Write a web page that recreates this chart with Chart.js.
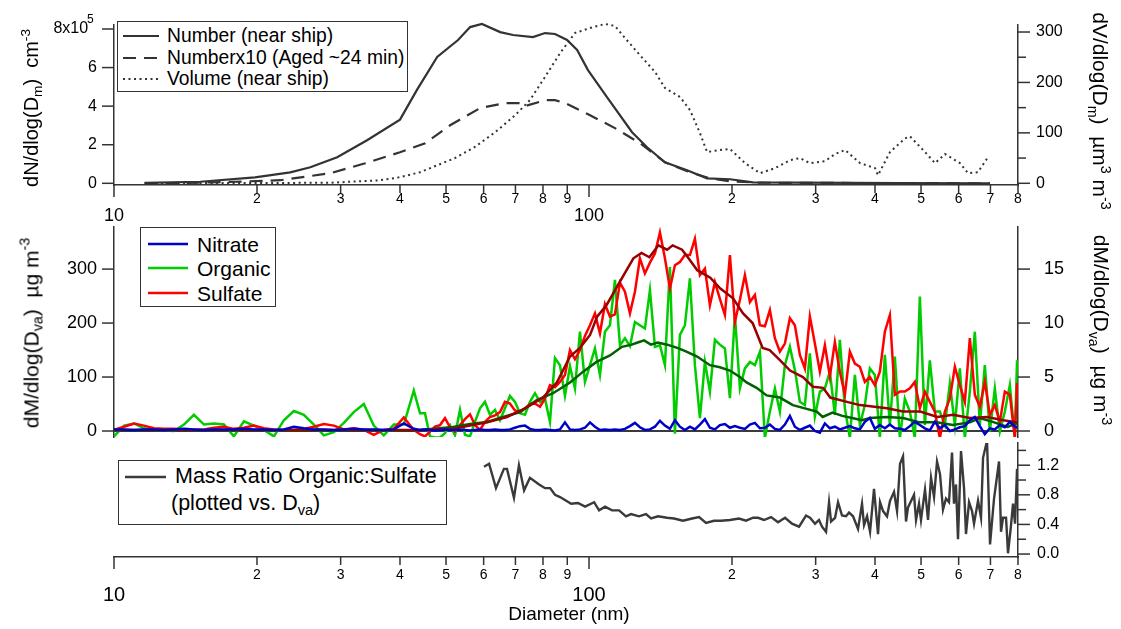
<!DOCTYPE html>
<html>
<head>
<meta charset="utf-8">
<script src="https://cdn.jsdelivr.net/npm/chart.js@4.4.1/dist/chart.umd.min.js"></script>
<style>
  body { margin: 0; background: #fff; font-family: "Liberation Sans", Arial, sans-serif; }
  #wrap { position: relative; width: 1121px; height: 629px; overflow: hidden; }
  canvas { position: absolute; left: 0; }
  .title { position: absolute; white-space: nowrap; color: #000; font-size: 20px; line-height: 1; }
  .rotL { transform: translate(-50%, -50%) rotate(-90deg); }
  .rotR { transform: translate(-50%, -50%) rotate(90deg); }
  .ctr { transform: translate(-50%, -50%); }
  sub { font-size: 0.68em; vertical-align: -0.3em; line-height: 0; }
  sup { font-size: 0.68em; vertical-align: 0.6em; line-height: 0; }
  .legend { position: absolute; border: 1.5px solid #333; background: #fff; box-sizing: border-box; }
  .row { position: absolute; left: 0; white-space: nowrap; }
  .row svg { position: absolute; }
  .row span { position: absolute; line-height: 1; transform: translateY(-50%); }
</style>
</head>
<body>
<div id="wrap">
  <canvas id="c1" width="1121" height="230" style="top:0px"></canvas>
  <canvas id="c2" width="1121" height="230" style="top:215px"></canvas>
  <canvas id="c3" width="1121" height="189" style="top:440px"></canvas>

  <div class="title" style="left:87px; top:13px; font-size:12px;">5</div>
  <div class="title rotL" style="left:31px; top:108px;">dN/dlog(D<sub>m</sub>)&nbsp; cm<sup>-3</sup></div>
  <div class="title rotR" style="left:1100px; top:111px; font-size:21px;">dV/dlog(D<sub>m</sub>)&nbsp; µm<sup>3</sup> m<sup>-3</sup></div>
  <div class="title rotL" style="left:31px; top:333px; font-size:21px;">dM/dlog(D<sub>va</sub>)&nbsp; µg m<sup>-3</sup></div>
  <div class="title rotR" style="left:1101px; top:330px; font-size:21px;">dM/dlog(D<sub>va</sub>)&nbsp; µg m<sup>-3</sup></div>
  <div class="title ctr" style="left:569px; top:613px; font-size:19px;">Diameter (nm)</div>

  <div class="legend" style="left:117px; top:21px; width:291px; height:71px; font-size:19.3px;">
    <div class="row" style="top:14px;"><svg width="36" height="6" style="left:5px; top:-3px;"><line x1="0" y1="3" x2="36" y2="3" stroke="#333" stroke-width="2.2"/></svg><span style="left:49px;">Number (near ship)</span></div>
    <div class="row" style="top:36px;"><svg width="36" height="6" style="left:5px; top:-3px;"><line x1="0" y1="3" x2="36" y2="3" stroke="#333" stroke-width="2.2" stroke-dasharray="13,8"/></svg><span style="left:49px;">Numberx10 (Aged ~24 min)</span></div>
    <div class="row" style="top:57px;"><svg width="36" height="6" style="left:5px; top:-3px;"><line x1="0" y1="3" x2="36" y2="3" stroke="#333" stroke-width="2" stroke-dasharray="2,3.5"/></svg><span style="left:49px;">Volume (near ship)</span></div>
  </div>

  <div class="legend" style="left:140px; top:227px; width:136px; height:80px; font-size:21px;">
    <div class="row" style="top:16px;"><svg width="40" height="6" style="left:7px; top:-3px;"><line x1="0" y1="3" x2="40" y2="3" stroke="#0000cc" stroke-width="2.6"/></svg><span style="left:56px;">Nitrate</span></div>
    <div class="row" style="top:40px;"><svg width="40" height="6" style="left:7px; top:-3px;"><line x1="0" y1="3" x2="40" y2="3" stroke="#00cc00" stroke-width="2.6"/></svg><span style="left:56px;">Organic</span></div>
    <div class="row" style="top:65px;"><svg width="40" height="6" style="left:7px; top:-3px;"><line x1="0" y1="3" x2="40" y2="3" stroke="#ff0000" stroke-width="2.6"/></svg><span style="left:56px;">Sulfate</span></div>
  </div>

  <div class="legend" style="left:118px; top:460px; width:329px; height:65px; font-size:21.5px;">
    <div class="row" style="top:16px;"><svg width="41" height="6" style="left:6px; top:-3px;"><line x1="0" y1="3" x2="41" y2="3" stroke="#3a3a3a" stroke-width="2.4"/></svg><span style="left:56px;">Mass Ratio Organic:Sulfate</span></div>
    <div class="row" style="top:43px;"><span style="left:52px;">(plotted vs. D<sub>va</sub>)</span></div>
  </div>
</div>

<script>
// ---- top panel: size distributions vs mobility diameter ----
const numD = [11.6, 15.2, 19.8, 23.5, 25.9, 29.5, 34.1, 40.0, 43.4, 47.9, 53.0, 56.2, 59.5, 65.0, 69.2, 76.2, 80.8, 84.8, 89.9, 94.4, 99.5, 109.1, 123.2, 132.5, 144.5, 160.8, 177.2, 198.1, 221.5, 278.0, 451.6, 698.6];
const numNear = [2000, 8000, 31000, 57000, 83000, 135000, 223000, 330000, 483000, 655000, 743000, 810000, 826000, 784000, 769000, 758000, 779000, 774000, 743000, 691000, 587000, 447000, 265000, 187000, 109000, 68000, 26000, 21000, 5000, 3000, 1000, 0];

const agedD = [11.6, 15.2, 18.0, 22.4, 28.5, 33.8, 40.0, 45.2, 51.0, 59.0, 66.5, 71.6, 73.3, 80.8, 84.8, 89.0, 100.5, 113.4, 128.0, 144.5, 163.2, 179.8, 198.1, 229.1, 451.6, 698.6];
const numAgedX10 = [0, 3000, 8000, 16000, 52000, 104000, 161000, 208000, 301000, 390000, 416000, 416000, 400000, 431000, 431000, 416000, 353000, 286000, 208000, 109000, 57000, 26000, 10000, 3000, 1000, 0];

const volD = [11.6, 28.5, 36.3, 40.0, 44.1, 46.3, 52.2, 57.5, 63.4, 69.9, 75.1, 80.8, 86.9, 93.4, 100.5, 108.1, 113.4, 119.1, 128.0, 137.7, 144.5, 155.5, 163.2, 171.3, 177.2, 188.7, 198.1, 213.0, 229.1, 246.4, 265.0, 278.0, 291.9, 313.9, 329.6, 345.9, 372.0, 400.0, 405.9, 430.2, 462.6, 474.0, 509.7, 535.1, 561.6, 603.9, 627.8, 659.1, 691.8];
const volNear = [0, 1, 6, 12, 22, 30, 50, 72, 101, 135, 165, 211, 258, 298, 308, 316, 312, 288, 254, 221, 189, 171, 145, 99, 62, 66, 68, 40, 20, 30, 46, 50, 40, 44, 58, 66, 40, 30, 16, 62, 89, 93, 62, 40, 58, 40, 20, 22, 52];

// ---- middle panel: AMS mass distributions vs vacuum aerodynamic diameter ----
const dva = [10.0, 10.5, 11.02, 11.56, 12.14, 12.74, 13.37, 14.04, 14.73, 15.47, 16.23, 17.04, 17.88, 18.77, 19.70, 20.68, 21.71, 22.78, 23.91, 25.10, 26.35, 27.65, 29.03, 30.47, 31.98, 33.57, 35.23, 36.98, 38.82, 40.75, 42.77,
  44.07, 45.15, 46.26, 47.39, 48.56, 49.75, 50.97, 52.22, 53.50, 54.81, 56.16, 57.53, 58.95, 60.39, 61.87, 63.39, 64.95, 66.54, 68.17, 69.84, 71.56, 73.31, 75.11, 76.95, 78.84, 80.77, 82.75, 84.78, 86.86, 88.99, 91.18,
  93.41, 95.70, 98.05, 100.46, 102.92, 105.44, 108.03, 110.68, 113.39, 116.17, 119.02, 121.94, 124.93, 127.99, 131.13, 134.35, 137.64, 141.02, 144.48, 148.02, 151.65, 155.37, 159.18, 163.08, 167.08, 171.18, 175.38, 179.68, 184.09, 188.60,
  193.23, 197.97, 202.82, 207.80, 212.89, 218.11, 223.46, 228.94, 234.56, 240.31, 246.20, 252.24, 258.43, 264.77, 271.26, 277.91, 284.73, 291.71, 298.87, 306.20, 313.71, 321.40, 329.28, 337.36, 345.63, 354.11, 362.80, 371.70, 380.81, 390.15,
  399.72, 409.53, 419.57, 429.86, 440.41, 451.21, 462.28, 473.62, 485.23, 497.13, 509.33, 521.82, 534.62, 547.73, 561.17, 574.93, 589.03, 603.48, 618.29, 633.45, 648.99, 664.91, 681.22, 697.93, 715.05, 732.59, 750.56, 768.97, 787.84, 796.3];

const organic = [-10, 10, 14, 5, 2, 1, 0, 12, 30, 12, 14, 12, -10, 18, 10, 2, -10, 20, 37, 30, 12, -8, -2, 15, 35, 50, 10, -8, 12, 12, 75,
  33, 33, -10, -12, -12, -4, 11, -8, 39, -7, -10, 17, 42, 54, 30, 39, 20, 42, 65, 54, 33, 30, 54, 70, 54, 60, 17, 135, 122, 65, 120,
  79, 184, 91, 122, 153, 104, 184, 196, 280, 159, 172, 157, 202, 196, 190, 261, 156, 159, 122, 304, -5, 178, 196, 283, 122, 24, 128, 73, 169, 160,
  153, 61, 215, 79, 116, 128, 122, 147, -13, 36, 79, 36, 122, 156, 113, 54, 48, 144, 27, 73, 79, 110, 30, 169, 42, -13, 104, 11, 48, 116,
  104, -13, 141, 11, 138, -13, 60, 36, -13, 249, 11, 131, 36, 36, 11, 88, 11, 116, -13, 73, 184, 11, 122, -1, 79, -1, 36, 85, -13, 131];

const sulfate = [2, 8, 14, 10, 5, 4, 4, 3, 2, 3, 6, 8, 4, 6, 10, 5, 3, 2, 2, 4, 8, 13, 10, 3, 5, 2, -7, 2, 4, 25, 2,
  -6, -10, -1, 8, 11, 24, 7, -1, 11, 22, 31, 11, 2, 17, 26, 29, 35, 54, 51, 38, 35, 42, 50, 51, 45, 60, 85, 81, 91, 104, 150,
  133, 150, 176, 196, 218, 181, 235, 212, 216, 275, 258, 218, 258, 320, 292, 312, 329, 368, 320, 264, 307, 313, 326, 326, 356, 289, 301, 233, 276, 245,
  215, 326, 202, 243, 289, 239, 252, 196, 194, 224, 172, 147, 162, 209, 196, 141, 116, 212, 162, 110, 159, 101, 165, 110, 67, 147, 125, 119, 91, 100,
  85, 110, 184, 215, 67, 73, 73, 79, 91, 42, 73, 54, 36, -13, 36, 60, 119, 85, 54, 172, 67, 45, 91, 30, 48, 17, 73, 67, -13, 89];

const nitrate = [3, 3, 2, 3, 3, 2, 3, 4, 3, 2, 3, 3, 3, 4, 3, 3, 2, 3, 8, 5, 3, 3, 2, 3, 4, 3, 3, 2, 3, 14, 4,
  2, 3, 2, 1, 2, 3, 2, 2, 3, 2, 1, 2, 3, 2, 2, 3, 2, 2, 3, 6, 9, 10, 4, 2, 2, 3, 2, 1, 3, 16,
  3, 2, 3, 6, 16, 8, 2, 3, 2, 3, 2, 4, 9, 15, 7, 2, 3, 8, 19, 10, 4, 20, 8, 2, 8, 3, 12, 22, 6, 3,
  11, 13, 6, 9, 6, 4, 12, 15, 5, 6, 12, 4, 2, 12, 28, 8, 2, 6, 10, 0, -3, 14, 5, 8, 3, 6, 9, 5, 3, 17,
  24, 4, 11, 5, 12, 5, 4, 2, 9, 17, 11, 5, 1, 17, 5, 11, 0, 3, 7, 9, 20, 26, 9, -6, 5, 3, 11, 7, 17, 8, 6];

// smoothed traces, right axis
const sulfSmD = [10, 20, 30, 38, 44.1, 51.7, 61.0, 67.2, 74.1, 80.0, 85.6, 91.2, 95.7, 100.5, 104, 109, 116, 124, 129, 134, 140, 146, 150, 157, 162, 169, 180, 189, 201, 211, 221, 232, 240, 252, 265, 282, 296, 311, 322, 349, 372, 391, 424, 458, 498, 541, 584, 634, 689, 745, 796];
const sulfSm = [0.1, 0.1, 0.1, 0.1, 0.1, 0.2, 0.8, 1.3, 2.2, 3.1, 4.5, 6.9, 7.7, 8.9, 10.6, 11.7, 13.8, 16.0, 16.5, 16.1, 17.2, 16.8, 17.2, 16.8, 16.0, 14.9, 14.2, 13.2, 12.3, 10.9, 10.0, 7.7, 7.5, 6.6, 5.6, 5.0, 4.1, 4.0, 3.1, 2.7, 2.4, 2.3, 2.1, 1.8, 1.8, 1.3, 1.5, 1.2, 1.3, 1.0, 0.8];

const orgSmD = [10, 20, 30, 38, 44.1, 51.7, 56.2, 61.0, 64.9, 71.6, 77.6, 84.0, 91.2, 97.2, 103.7, 110.7, 117.3, 123.0, 126.6, 130.6, 135.0, 139.5, 146.1, 153.4, 159.5, 168.9, 179.7, 188.6, 197.9, 207.8, 214.6, 225.3, 236.5, 252.2, 268.6, 284.7, 301.7, 310.4, 325.5, 341.4, 358.1, 375.5, 390.2, 424.5, 458.2, 497.1, 539.4, 583.4, 633.5, 664.9, 712.9, 760.8, 797.4];
const orgSm = [0.05, 0.05, 0.05, 0.05, 0.1, 0.37, 0.65, 0.83, 1.2, 1.76, 2.87, 3.5, 4.5, 5.5, 6.4, 7.0, 7.8, 8.0, 8.2, 8.4, 8.0, 8.2, 8.0, 7.7, 7.4, 6.9, 6.1, 5.9, 5.6, 5.0, 4.5, 4.0, 3.3, 3.1, 2.4, 2.1, 1.8, 1.3, 1.7, 1.4, 1.2, 1.0, 1.2, 1.3, 1.2, 0.8, 0.8, 0.55, 0.8, 1.2, 0.8, 0.37, 0.74];

// ---- bottom panel: organic / sulfate ratio ----
const ratioD = [60.1, 61.6, 63.7, 66.2, 67.2, 69.5, 71.2, 73.0, 75.1, 78.5, 80.8, 82.8, 84.8, 86.9, 91.7, 94.8, 98.1, 102.5, 105.0, 108.1,
  111.8, 115.7, 119.6, 122.6, 127.4, 131.8, 135.1, 139.7, 146.0, 151.0, 157.7, 164.8, 170.5, 176.3, 183.3, 189.6, 198.1, 206.9, 214.1, 221.5,
  226.9, 233.6, 241.7, 250.0, 258.6, 267.5, 276.8, 286.3, 291.9, 299.1, 304.9, 309.4, 315.5, 320.1, 323.2, 329.6, 334.4, 340.9, 347.6, 352.7,
  359.6, 368.4, 375.6, 379.3, 384.9, 390.5, 398.1, 405.9, 409.9, 415.9, 424.0, 430.2, 438.6, 445.1, 451.6, 458.2, 464.9, 469.4, 483.3, 488.0,
  495.1, 499.9, 509.7, 517.2, 524.8, 532.5, 540.3, 548.2, 556.2, 564.3, 572.6, 581.0, 586.6, 592.3, 598.1, 606.9, 615.8, 621.7, 631.0, 640.2,
  646.4, 659.1, 668.7, 675.3, 688.5, 698.6, 712.3, 729.7, 736.8, 744.0, 754.9, 762.2, 773.4, 781.0, 788.6, 796.3];
const ratio = [1.18, 1.22, 0.89, 1.15, 1.15, 0.76, 1.2, 0.86, 1.03, 0.94, 0.89, 0.89, 0.8, 0.77, 0.68, 0.69, 0.64, 0.70, 0.59, 0.64,
  0.59, 0.59, 0.51, 0.54, 0.51, 0.54, 0.48, 0.51, 0.49, 0.48, 0.45, 0.48, 0.50, 0.42, 0.45, 0.45, 0.46, 0.48, 0.45, 0.49,
  0.49, 0.46, 0.50, 0.43, 0.49, 0.41, 0.37, 0.52, 0.49, 0.41, 0.46, 0.37, 0.30, 0.70, 0.44, 0.49, 0.70, 0.52, 0.51, 0.56,
  0.51, 0.34, 0.68, 0.39, 0.51, 0.30, 0.88, 0.27, 0.70, 0.58, 0.51, 0.72, 0.84, 0.58, 1.22, 1.32, 0.44, 0.63, 0.80, 0.46,
  0.68, 0.46, 0.87, 0.46, 1.03, 0.77, 1.25, 1.08, 0.60, 0.75, 0.70, 1.37, 0.68, 0.94, 0.20, 1.39, 0.89, 0.27, 0.70, 0.58,
  0.41, 0.72, 0.49, 1.30, 1.53, 0.13, 0.75, 1.25, 0.30, 0.49, 0.49, 0.01, 0.39, 0.68, 0.41, 1.15];

// ---- ticks ----
const xTicks = [10, 20, 30, 40, 50, 60, 70, 80, 90, 100, 200, 300, 400, 500, 600, 700, 800];
const xTickLabels = ['10', '2', '3', '4', '5', '6', '7', '8', '9', '100', '2', '3', '4', '5', '6', '7', '8'];
const numTicks = [0, 200000, 400000, 600000, 800000];
const numTickLabels = ['0', '2', '4', '6', '8x10  '];   // exponent 5 is set as a superscript in the page
const volTicks = [0, 50, 100, 150, 200, 250, 300];
const volTickLabels = ['0', '', '100', '', '200', '', '300'];
const massTicks = [0, 100, 200, 300];
const massTickLabels = ['0', '100', '200', '300'];
const smTicks = [0, 5, 10, 15];
const smTickLabels = ['0', '5', '10', '15'];
const ratioTicks = [0, 0.2, 0.4, 0.6, 0.8, 1.0, 1.2, 1.4];
const ratioTickLabels = ['0.0', '', '0.4', '', '0.8', '', '1.2', ''];

Chart.defaults.font.family = "'Liberation Sans', Arial, sans-serif";
Chart.defaults.color = '#000';
const AXIS = '#333';

const pts = (xs, ys) => xs.map((x, i) => ({ x: x, y: ys[i] }));
const isDecade = v => Math.abs(Math.log10(v) - Math.round(Math.log10(v))) < 1e-9;

// Igor-style outward ticks: long for labelled / decade ticks, short for the rest
const tickMarks = {
  id: 'tickMarks',
  afterDraw(chart) {
    const ctx = chart.ctx;
    ctx.save();
    ctx.strokeStyle = AXIS;
    ctx.lineWidth = 1.5;
    Object.values(chart.scales).forEach(s => {
      if (!s.options.display) return;
      s.ticks.forEach((t, i) => {
        const p = s.getPixelForTick(i);
        ctx.beginPath();
        if (s.axis === 'x') {
          const len = isDecade(t.value) ? 12 : 8;
          ctx.moveTo(p, s.top); ctx.lineTo(p, s.top + len);
        } else {
          const len = t.label !== '' ? 12 : 8;
          if (s.position === 'left') { ctx.moveTo(s.right, p); ctx.lineTo(s.right - len, p); }
          else { ctx.moveTo(s.left, p); ctx.lineTo(s.left + len, p); }
        }
        ctx.stroke();
      });
    });
    ctx.restore();
  }
};

function makeX(o) {
  return {
    type: 'logarithmic', min: 10, max: 800, display: o.display,
    afterBuildTicks: s => { s.ticks = xTicks.map(v => ({ value: v })); },
    afterFit: s => { s.height = o.height; s.paddingLeft = 0; s.paddingRight = 0; },
    border: { display: true, color: AXIS, width: 1.5 },
    grid: { display: false, drawTicks: false },
    ticks: {
      autoSkip: false, maxRotation: 0, minRotation: 0, padding: o.pad, color: '#000',
      font: c => (c.tick && isDecade(c.tick.value)) ? { size: o.majorSize, lineHeight: o.majorLH + 'px' } : { size: 14 },
      callback: (v, i) => isDecade(xTicks[i]) ? ['', xTickLabels[i]] : xTickLabels[i]
    }
  };
}

function makeY(o) {
  return {
    type: 'linear', position: o.pos, min: o.min, max: o.max,
    afterBuildTicks: s => { s.ticks = o.ticks.map(v => ({ value: v })); },
    afterFit: s => { s.width = o.width; s.paddingTop = 0; s.paddingBottom = 0; },
    border: { display: true, color: AXIS, width: 1.5 },
    grid: o.grid || { display: false, drawTicks: false },
    ticks: { padding: o.pad, font: { size: o.size }, color: '#000', autoSkip: false, callback: (v, i) => o.labels[i] }
  };
}

const common = {
  responsive: false, animation: false, events: [],
  plugins: { legend: { display: false }, tooltip: { enabled: false } },
  elements: { point: { radius: 0 }, line: { tension: 0, fill: false } }
};

new Chart(document.getElementById('c1'), {
  type: 'line',
  data: { datasets: [
    { data: pts(numD, numNear), borderColor: '#333', borderWidth: 2.2, yAxisID: 'yL', clip: false },
    { data: pts(agedD, numAgedX10), borderColor: '#333', borderWidth: 2.2, borderDash: [13, 8], yAxisID: 'yL', clip: false },
    { data: pts(volD, volNear), borderColor: '#333', borderWidth: 2, borderDash: [2, 3.5], yAxisID: 'yR', clip: false }
  ] },
  options: Object.assign({}, common, {
    layout: { padding: { top: 25, left: 0, right: 0, bottom: 0 } },
    scales: {
      x: makeX({ display: true, height: 45, pad: 6, majorSize: 18, majorLH: 17 }),
      yL: makeY({ pos: 'left', min: -8800, max: 820700, ticks: numTicks, labels: numTickLabels, width: 114, pad: 17, size: 16 }),
      yR: makeY({ pos: 'right', min: -3.4, max: 313.9, ticks: volTicks, labels: volTickLabels, width: 103, pad: 18, size: 16 })
    }
  }),
  plugins: [tickMarks]
});

new Chart(document.getElementById('c2'), {
  type: 'line',
  data: { datasets: [
    { data: pts(dva, nitrate), borderColor: '#0000cc', borderWidth: 2.5, yAxisID: 'yL' },
    { data: pts(sulfSmD, sulfSm), borderColor: '#990000', borderWidth: 2.5, yAxisID: 'yR' },
    { data: pts(orgSmD, orgSm), borderColor: '#006000', borderWidth: 2.5, yAxisID: 'yR' },
    { data: pts(dva, sulfate), borderColor: '#ff0000', borderWidth: 2.5, yAxisID: 'yL' },
    { data: pts(dva, organic), borderColor: '#00cc00', borderWidth: 2.5, yAxisID: 'yL' }
  ] },
  options: Object.assign({}, common, {
    layout: { padding: { top: 12, left: 0, right: 0, bottom: 8 } },
    scales: {
      x: makeX({ display: false, height: 0, pad: 0, majorSize: 16, majorLH: 17 }),
      yL: makeY({ pos: 'left', min: -11.1, max: 378, ticks: massTicks, labels: massTickLabels, width: 114, pad: 17, size: 18,
        grid: { display: true, drawTicks: false, drawOnChartArea: true, lineWidth: 2,
                color: c => (c.tick && c.tick.value === 0) ? '#3a3a3a' : 'rgba(0,0,0,0)' } }),
      yR: makeY({ pos: 'right', min: -0.555, max: 18.9, ticks: smTicks, labels: smTickLabels, width: 103, pad: 26, size: 18 })
    }
  }),
  plugins: [tickMarks]
});

new Chart(document.getElementById('c3'), {
  type: 'line',
  data: { datasets: [
    { data: pts(ratioD, ratio), borderColor: '#3a3a3a', borderWidth: 2.4, yAxisID: 'y' }
  ] },
  options: Object.assign({}, common, {
    layout: { padding: { top: 3, left: 114, right: 0, bottom: 0 } },
    scales: {
      x: makeX({ display: true, height: 72, pad: 10, majorSize: 20, majorLH: 19 }),
      y: makeY({ pos: 'right', min: -0.04, max: 1.5, ticks: ratioTicks, labels: ratioTickLabels, width: 103, pad: 19, size: 16 })
    }
  }),
  plugins: [tickMarks]
});
</script>
</body>
</html>
